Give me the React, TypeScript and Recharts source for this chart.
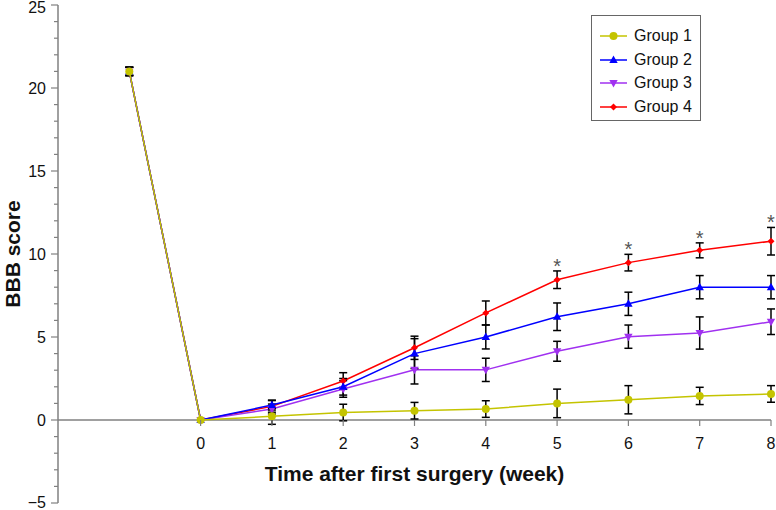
import React from 'react';
import { ComposedChart, Line, XAxis, YAxis, ErrorBar, ReferenceLine, Legend, LabelList } from 'recharts';

// week -1 is the pre-surgery baseline
const WEEKS = [-1, 0, 1, 2, 3, 4, 5, 6, 7, 8];

const GROUP1 = [21, 0, 0.22, 0.45, 0.56, 0.66, 1.0, 1.22, 1.45, 1.57];
const GROUP1_ERR = [0.25, null, 0.48, 0.5, 0.5, 0.5, 0.86, 0.85, 0.52, 0.5];
const GROUP2 = [21, 0, 0.9, 2.0, 4.0, 5.0, 6.22, 7.0, 8.0, 8.0];
const GROUP2_ERR = [0.25, null, 0.3, 0.5, 0.9, 0.72, 0.83, 0.7, 0.7, 0.7];
const GROUP3 = [21, 0, 0.66, 1.87, 3.02, 3.02, 4.14, 5.02, 5.24, 5.92];
const GROUP3_ERR = [0.25, null, 0.3, 0.5, 0.85, 0.7, 0.6, 0.7, 0.97, 0.77];
const GROUP4 = [21, 0, 0.82, 2.35, 4.35, 6.45, 8.45, 9.48, 10.22, 10.77];
const GROUP4_ERR = [0.25, null, 0.35, 0.5, 0.7, 0.72, 0.53, 0.5, 0.45, 0.83];

const SIG_WEEKS = [5, 6, 7, 8];

const X_TICKS = [0, 1, 2, 3, 4, 5, 6, 7, 8];
const Y_MIN = -5;
const Y_MAX = 25;
const Y_TICKS = Array.from({ length: Y_MAX - Y_MIN + 1 }, (_, i) => Y_MIN + i);

const FONT = "'Liberation Sans', Arial, sans-serif";
const AXIS_GRAY = '#808080';

const W = 776;
const H = 510;
const M = { top: 5, right: 5, bottom: 0, left: 0 };
const X_AXIS_H = 7;
const PLOT_H = H - M.top - M.bottom - X_AXIS_H;
// distance from plot bottom up to the y=0 line
const ZERO_SHIFT = ((0 - Y_MIN) / (Y_MAX - Y_MIN)) * PLOT_H;

const GROUPS = [
  { key: 'g1', name: 'Group 1', values: GROUP1, err: GROUP1_ERR, color: '#c4c400', marker: 'circle' },
  { key: 'g2', name: 'Group 2', values: GROUP2, err: GROUP2_ERR, color: '#0000ff', marker: 'up' },
  { key: 'g3', name: 'Group 3', values: GROUP3, err: GROUP3_ERR, color: '#a030f0', marker: 'down' },
  { key: 'g4', name: 'Group 4', values: GROUP4, err: GROUP4_ERR, color: '#ff0000', marker: 'diamond' },
];

const data = WEEKS.map((week, i) => {
  const row: any = { week };
  GROUPS.forEach(g => {
    row[g.key] = g.values[i];
    row[g.key + 'Err'] = g.err[i];
  });
  row.star = SIG_WEEKS.includes(week) ? GROUP4[i] + (GROUP4_ERR[i] || 0) : null;
  return row;
});

const Marker = ({ cx, cy, type, color }: any) => {
  if (cx == null || cy == null) return null;
  if (type === 'circle') return <circle cx={cx} cy={cy} r={4} fill={color} />;
  if (type === 'up')
    return <polygon points={`${cx},${cy - 4.5} ${cx + 4.2},${cy + 3} ${cx - 4.2},${cy + 3}`} fill={color} />;
  if (type === 'down')
    return <polygon points={`${cx},${cy + 4.5} ${cx + 4.2},${cy - 3} ${cx - 4.2},${cy - 3}`} fill={color} />;
  return <polygon points={`${cx},${cy - 3.5} ${cx + 3.5},${cy} ${cx},${cy + 3.5} ${cx - 3.5},${cy}`} fill={color} />;
};

const YTick = ({ x, y, payload }: any) => {
  const major = payload.value % 5 === 0;
  // keep the end labels inside the picture
  const ty = Math.min(Math.max(y, 7), H - 8);
  return (
    <g>
      <line x1={x - (major ? 7 : 4)} x2={x} y1={y} y2={y} stroke={AXIS_GRAY} strokeWidth={1.2} />
      {major && (
        <text x={x - 12} y={ty} dy="0.36em" textAnchor="end" fontSize={16} fill="#111" fontFamily={FONT}>
          {payload.value < 0 ? `\u2212${Math.abs(payload.value)}` : payload.value}
        </text>
      )}
    </g>
  );
};

const XTick = ({ x, y, payload }: any) => {
  const y0 = y - ZERO_SHIFT;
  return (
    <g>
      <line x1={x} x2={x} y1={y0} y2={y0 + 6} stroke={AXIS_GRAY} strokeWidth={1.2} />
      <text x={x} y={y0 + 29} textAnchor="middle" fontSize={16} fill="#111" fontFamily={FONT}>
        {payload.value}
      </text>
    </g>
  );
};

const StarLabel = ({ x, y, value }: any) => {
  if (value == null) return null;
  return (
    <text x={x} y={y + 2} textAnchor="middle" fontSize={20} fill="#555" fontFamily={FONT}>
      *
    </text>
  );
};

const LegendBox = () => (
  <div
    style={{
      width: 110,
      height: 106,
      boxSizing: 'border-box',
      border: '1.5px solid #666',
      background: '#fff',
      paddingTop: 8,
      fontFamily: FONT,
    }}
  >
    {GROUPS.map(g => (
      <div key={g.key} style={{ display: 'flex', alignItems: 'center', height: 23.7 }}>
        <svg width={42} height={14} style={{ flex: 'none' }}>
          <line x1={8} x2={35} y1={7} y2={7} stroke={g.color} strokeWidth={1.5} />
          <Marker cx={21.5} cy={7} type={g.marker} color={g.color} />
        </svg>
        <span style={{ fontSize: 16, color: '#111' }}>{g.name}</span>
      </div>
    ))}
  </div>
);

export default function App() {
  // draw order: group 4 underneath, group 1 on top
  const drawOrder = [...GROUPS].reverse();
  return (
    <div style={{ position: 'absolute', left: 0, top: 0, background: '#fff' }}>
      <ComposedChart width={W} height={H} data={data} margin={M}>
        <XAxis
          dataKey="week"
          type="number"
          domain={[-2, 8]}
          ticks={X_TICKS}
          interval={0}
          height={X_AXIS_H}
          axisLine={false}
          tickLine={false}
          tickSize={0}
          tickMargin={0}
          tick={<XTick />}
        />
        <YAxis
          type="number"
          domain={[Y_MIN, Y_MAX]}
          ticks={Y_TICKS}
          interval={0}
          width={58}
          axisLine={{ stroke: AXIS_GRAY, strokeWidth: 1.5 }}
          tickLine={false}
          tickSize={0}
          tickMargin={0}
          tick={<YTick />}
          label={(props: any) => {
            const vb = props.viewBox || { x: 0, y: M.top, width: 58, height: PLOT_H };
            const cy = vb.y + vb.height / 2;
            return (
              <text
                x={12}
                y={cy}
                transform={`rotate(-90, 12, ${cy})`}
                textAnchor="middle"
                dominantBaseline="central"
                fontSize={21}
                fontWeight="bold"
                fill="#111"
                fontFamily={FONT}
              >
                BBB score
              </text>
            );
          }}
        />
        <ReferenceLine
          y={0}
          stroke={AXIS_GRAY}
          strokeWidth={1.5}
          label={(props: any) => {
            const vb = props.viewBox;
            if (!vb) return null;
            return (
              <text
                x={vb.x + vb.width / 2}
                y={vb.y + 61}
                textAnchor="middle"
                fontSize={21}
                fontWeight="bold"
                fill="#111"
                fontFamily={FONT}
              >
                Time after first surgery (week)
              </text>
            );
          }}
        />
        {drawOrder.map(g => (
          <Line
            key={g.key}
            dataKey={g.key}
            name={g.name}
            type="linear"
            stroke={g.color}
            strokeWidth={1.5}
            isAnimationActive={false}
            activeDot={false}
            dot={(p: any) => <Marker key={`${g.key}-${p.index}`} cx={p.cx} cy={p.cy} type={g.marker} color={g.color} />}
          >
            <ErrorBar dataKey={g.key + 'Err'} width={4} stroke="#000" strokeWidth={1.5} direction="y" />
          </Line>
        ))}
        <Line dataKey="star" stroke="none" dot={false} activeDot={false} legendType="none" isAnimationActive={false}>
          <LabelList dataKey="star" content={<StarLabel />} />
        </Line>
        <Legend
          layout="vertical"
          align="center"
          verticalAlign="middle"
          wrapperStyle={{ left: 591, top: 15, width: 110, height: 106 }}
          content={() => <LegendBox />}
        />
      </ComposedChart>
    </div>
  );
}
